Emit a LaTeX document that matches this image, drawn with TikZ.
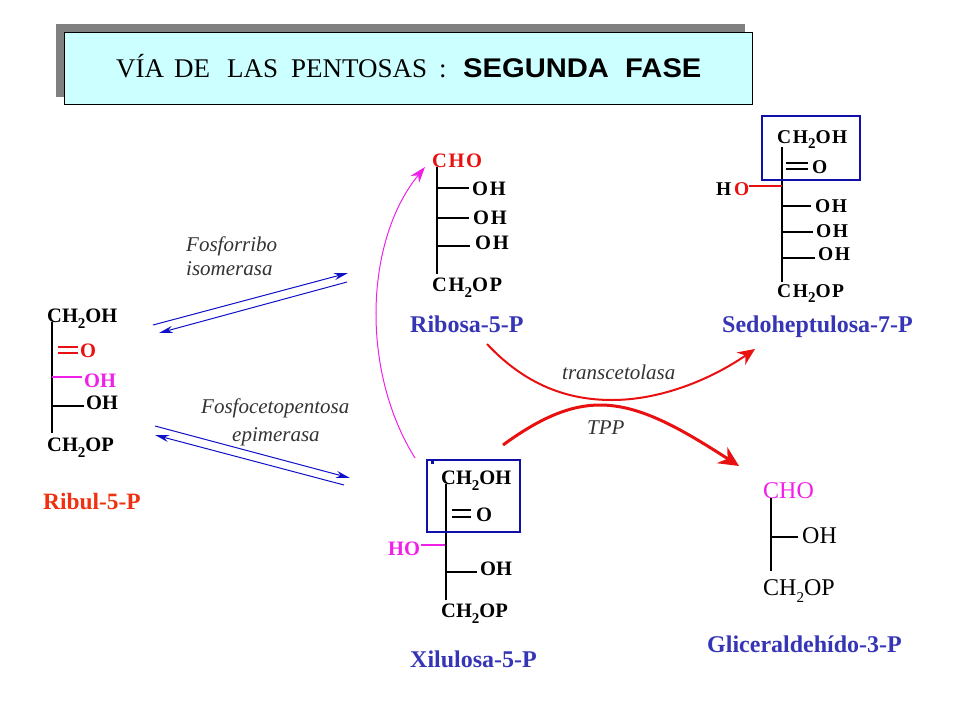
\documentclass[tikz,border=0pt]{standalone}
\usepackage{fontspec}
\setmainfont{Liberation Serif}
\setsansfont{Liberation Sans}
\newfontfamily\widefont[LetterSpace=8]{Liberation Serif}
\usetikzlibrary{arrows.meta}
\definecolor{boxfill}{HTML}{CCFFFF}
\definecolor{shadowgray}{HTML}{808080}
\definecolor{labelblue}{HTML}{3535B5}
\definecolor{arrowblue}{HTML}{1010C8}
\definecolor{framblue}{HTML}{1010A8}
\definecolor{ribulred}{HTML}{F03010}
\definecolor{chemred}{HTML}{E81010}
\definecolor{chempink}{HTML}{F020E8}
\newcommand{\subtwo}{\raisebox{-0.3em}{\fontsize{15}{15}\selectfont 2}}
\tikzset{
    formula/.style={anchor=base west, inner sep=0pt, font=\fontsize{20.5}{24}\selectfont\bfseries},
    wideformula/.style={anchor=base west, inner sep=0pt, font=\fontsize{19.5}{24}\selectfont\widefont\bfseries},
    riboformula/.style={anchor=base west, inner sep=0pt, font=\fontsize{20.5}{24}\selectfont\widefont\bfseries},
    plainformula/.style={anchor=base west, inner sep=0pt, font=\fontsize{24}{28}\selectfont},
    molname/.style={anchor=base west, inner sep=0pt, text=labelblue, font=\fontsize{24}{28}\selectfont\bfseries},
    enzyme/.style={anchor=base west, inner sep=0pt, text=black!80, font=\fontsize{21}{24}\selectfont\itshape},
    bond/.style={line width=2.2pt},
    frame/.style={draw=framblue, line width=2pt},
    blueline/.style={draw=arrowblue, line width=1pt, -{Stealth[length=14pt,width=7pt]}}
}
\begin{document}
\begin{tikzpicture}[x=1pt,y=-1pt]
    \useasboundingbox (0,0) rectangle (960,720);
    \fill[shadowgray] (56,24) rectangle (745,97);
    \draw[fill=boxfill, line width=0.8pt] (64,32) rectangle (752,104);
    \node[anchor=base west, inner sep=0pt, font=\fontsize{27}{30}\selectfont] (titleleft) at (116,77) {VÍA\hspace{10pt}DE\hspace{17pt}LAS\hspace{13pt}PENTOSAS\hspace{12pt}:};
    \node[anchor=base west, inner sep=0pt, xscale=1.08, font=\fontsize{27}{30}\selectfont\sffamily\bfseries] (titleright) at (463,77) {SEGUNDA\ \ FASE};

    \node[formula] (ribtop) at (47,322) {CH\subtwo OH};
    \node[formula, text=chemred] (ribO) at (80,357) {O};
    \node[formula, text=chempink] (ribOHa) at (84,387) {OH};
    \node[formula] (ribOHb) at (86,409) {OH};
    \node[formula] (ribbot) at (47,451) {CH\subtwo OP};
    \node[molname, text=ribulred, font=\fontsize{23.4}{28}\selectfont\bfseries] (ribname) at (43,509) {Ribul-5-P};

    \node[riboformula, text=chemred] (rbtop) at (432,167) {CHO};
    \node[riboformula] (rbOHa) at (472,195) {OH};
    \node[riboformula] (rbOHb) at (473,224) {OH};
    \node[riboformula] (rbOHc) at (475,249) {OH};
    \node[riboformula] (rbbot) at (432,291) {CH\subtwo OP};
    \node[molname] (rbname) at (410,332) {Ribosa-5-P};

    \node[wideformula] (setop) at (777,143) {CH\subtwo OH};
    \node[wideformula] (seO) at (812,173) {O};
    \node[wideformula] (seH) at (716,195) {H};
    \node[wideformula, text=chemred] (seHO) at (734,195) {O};
    \node[wideformula] (seOHa) at (815,212) {OH};
    \node[wideformula] (seOHb) at (816,237) {OH};
    \node[wideformula] (seOHc) at (818,260) {OH};
    \node[wideformula] (sebot) at (777,297) {CH\subtwo OP};
    \node[molname] (sename) at (722,332) {Sedoheptulosa-7-P};

    \node[formula] (xitop) at (441,484) {CH\subtwo OH};
    \node[formula] (xiO) at (476,521) {O};
    \node[formula, text=chempink] (xiHO) at (388,555) {HO};
    \node[formula] (xiOH) at (480,575) {OH};
    \node[formula] (xibot) at (441,617) {CH\subtwo OP};
    \node[molname] (xiname) at (410,667) {Xilulosa-5-P};

    \node[plainformula, text=chempink] (gltop) at (763,498) {CHO};
    \node[plainformula] (glOH) at (802,543) {OH};
    \node[plainformula] (glbot) at (763,595) {CH\subtwo OP};
    \node[molname] (glname) at (707,652) {Gliceraldehído-3-P};

    \node[enzyme] (isotop) at (186,251) {Fosforribo};
    \node[enzyme] (isobot) at (186,275) {isomerasa};
    \node[enzyme] (epitop) at (201,413) {Fosfocetopentosa};
    \node[enzyme] (epibot) at (232,441) {epimerasa};
    \node[enzyme] (trans) at (562,379) {transcetolasa};
    \node[enzyme] (tpp) at (587,434) {TPP};

    \foreach \bondname/\xa/\ya/\xb/\yb/\bondcol in {
        ribspine/52/322/52/433/black, ribdba/58/347/78/347/chemred, ribdbb/58/353/78/353/chemred,
        ribpink/52/377/82/377/chempink, ribplain/52/406/84/406/black,
        rbspine/437/167/437/274/black, rbbonda/437/188/469/188/black,
        rbbondb/437/218/469/218/black, rbbondc/437/246/470/246/black,
        sespine/782/147/782/282/black, sedba/786/163/808/163/black, sedbb/786/169/808/169/black,
        sered/749/186/782/186/chemred, sebonda/782/206/811/206/black,
        sebondb/782/232/813/232/black, sebondc/782/258/815/258/black,
        xispine/446/484/446/600/black, xidba/452/510/471/510/black, xidbb/452/517/471/517/black,
        xipink/421/545/445/545/chempink, xibond/446/572/477/572/black,
        glspine/771/498/771/571/black, glbond/771/537/798/537/black}
    {
        \coordinate (\bondname a) at (\xa,\ya);
        \coordinate (\bondname b) at (\xb,\yb);
        \draw[bond, draw=\bondcol] (\bondname a) -- (\bondname b);
    }

    \draw[frame] (762,116) rectangle (860,180);
    \draw[frame] (427,460) rectangle (520,532);
    \fill[framblue] (431,461) rectangle (434,464);

    \foreach \arrowname/\xa/\ya/\xb/\yb in {
        isofwd/153/325/348/273, isoback/347/282/159/333,
        epifwd/155/426/350/478, epiback/344/485/155/435}
    {
        \coordinate (\arrowname a) at (\xa,\ya);
        \coordinate (\arrowname b) at (\xb,\yb);
        \draw[blueline] (\arrowname a) -- (\arrowname b);
    }

    \coordinate (pinkstart) at (415,458);
    \coordinate (pinkend) at (425,167);
    \draw[chempink, line width=1pt, -{Stealth[length=16pt,width=11pt]}] (pinkstart)
        .. controls (360,370) and (365,240) .. (pinkend);

    \coordinate (redastart) at (487,344);
    \coordinate (redamid) at (612,400);
    \coordinate (redaend) at (755,349);
    \draw[chemred, line width=2pt, -{Stealth[length=17pt,width=15pt]}] (redastart)
        .. controls (530,390) and (575,400) .. (redamid)
        .. controls (660,400) and (710,380) .. (redaend);

    \coordinate (redbstart) at (503,445);
    \coordinate (redbmid) at (600,405);
    \coordinate (redbend) at (739,466);
    \draw[chemred, line width=3pt, -{Stealth[length=20pt,width=19pt]}] (redbstart)
        .. controls (540,418) and (570,405) .. (redbmid)
        .. controls (640,405) and (680,428) .. (redbend);
\end{tikzpicture}
\end{document}
